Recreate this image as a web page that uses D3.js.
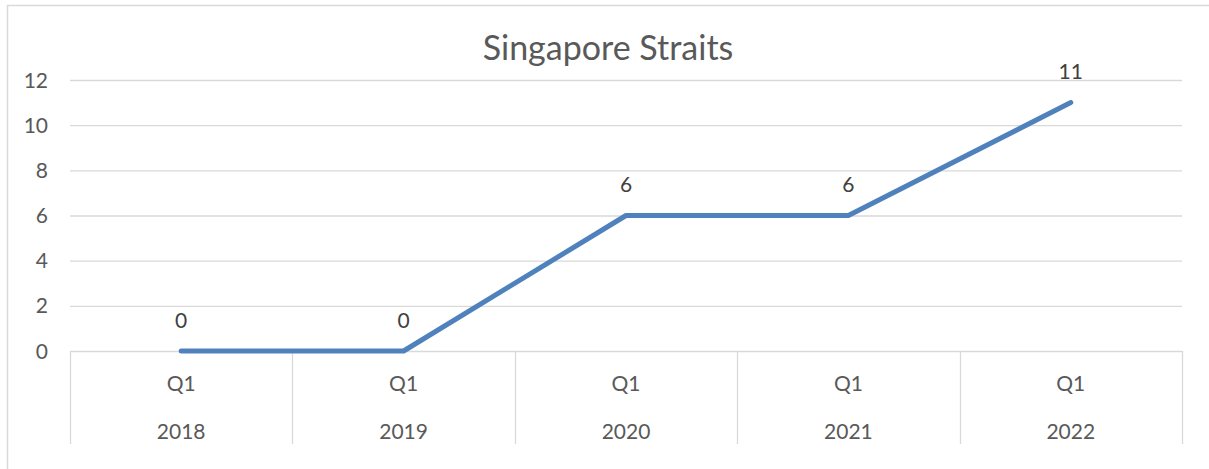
<!DOCTYPE html>
<html><head><meta charset="utf-8">
<script src="https://cdn.jsdelivr.net/npm/d3@7"></script>
<style>body{margin:0;background:#fff;}svg{display:block;}</style>
</head><body>
<script>
const years = ["2018","2019","2020","2021","2022"];
const quarters = ["Q1","Q1","Q1","Q1","Q1"];
const values = [0,0,6,6,11];
const yTicks = [0,2,4,6,8,10,12];
const title = "Singapore Straits";

(function(){
const W=1209,H=469;
const svg=d3.select("body").append("svg").attr("width",W).attr("height",H);
const font="Lato, 'Open Sans', sans-serif";
const fs=21;
svg.append("path").attr("d",`M7.5,${H} L7.5,5.5 L${W},5.5`).attr("fill","none").attr("stroke","#d9d9d9").attr("stroke-width",1.5);

const pLeft=70,pRight=1182,pTop=80,pBottom=351;
const x=d3.scaleBand().domain(d3.range(years.length)).range([pLeft,pRight]);
const y=d3.scaleLinear().domain([0,12]).range([pBottom,pTop]);

svg.append("g").selectAll("line").data(yTicks).join("line")
 .attr("x1",pLeft).attr("x2",pRight).attr("y1",d=>y(d)+0.5).attr("y2",d=>y(d)+0.5)
 .attr("stroke","#d9d9d9").attr("stroke-width",1.3);
svg.append("g").selectAll("text").data(yTicks).join("text")
 .attr("x",48).attr("y",d=>y(d)).attr("dy","0.36em").attr("text-anchor","end")
 .attr("font-family",font).attr("font-size",fs).attr("fill","#595959").text(d=>d);
const seps=d3.range(years.length+1).map(i=>i<years.length?x(i):pRight);
svg.append("g").selectAll("line").data(seps).join("line")
 .attr("x1",d=>Math.round(d)+0.5).attr("x2",d=>Math.round(d)+0.5).attr("y1",pBottom).attr("y2",444)
 .attr("stroke","#d9d9d9").attr("stroke-width",1.3);
svg.append("g").selectAll("text").data(quarters).join("text")
 .attr("x",(d,i)=>x(i)+x.bandwidth()/2).attr("y",383).attr("dy","0.36em").attr("text-anchor","middle")
 .attr("font-family",font).attr("font-size",fs).attr("fill","#595959").text(d=>d);
svg.append("g").selectAll("text").data(years).join("text")
 .attr("x",(d,i)=>x(i)+x.bandwidth()/2).attr("y",431).attr("dy","0.36em").attr("text-anchor","middle")
 .attr("font-family",font).attr("font-size",fs).attr("fill","#595959").text(d=>d);
const line=d3.line().x((d,i)=>x(i)+x.bandwidth()/2).y(d=>y(d));
svg.append("path").datum(values).attr("d",line).attr("fill","none")
 .attr("stroke","#4f81bd").attr("stroke-width",5).attr("stroke-linecap","round").attr("stroke-linejoin","round");
svg.append("g").selectAll("text").data(values).join("text")
 .attr("x",(d,i)=>x(i)+x.bandwidth()/2).attr("y",d=>y(d)-31).attr("dy","0.36em").attr("text-anchor","middle")
 .attr("font-family",font).attr("font-size",fs).attr("fill","#404040").text(d=>d);
svg.append("text").attr("x",608).attr("y",48).attr("dy","0.36em").attr("text-anchor","middle")
 .attr("font-family",font).attr("font-size",34).attr("fill","#595959").text(title);
})();
</script>
</body></html>
